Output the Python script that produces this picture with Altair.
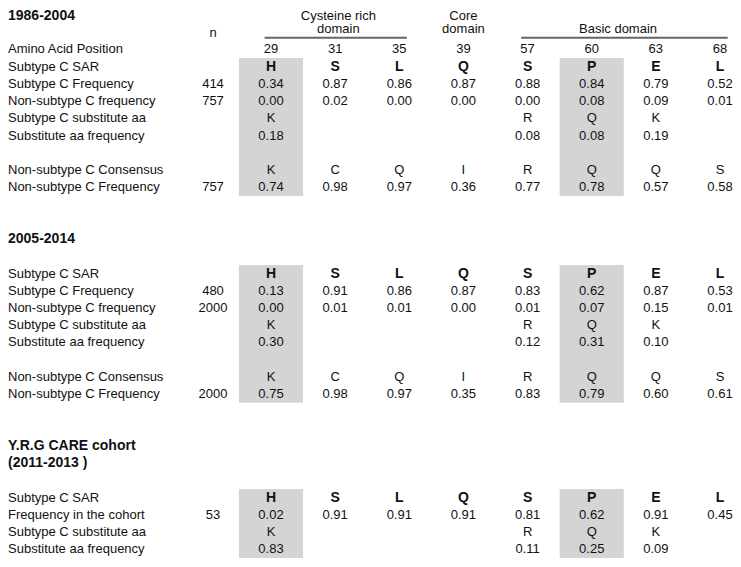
import altair as alt
import pandas as pd

# ---------------- data ----------------
positions = [29, 31, 35, 39, 57, 60, 63, 68]
sar = ["H", "S", "L", "Q", "S", "P", "E", "L"]
consensus = ["K", "C", "Q", "I", "R", "Q", "Q", "S"]
subst_aa = ["K", "", "", "", "R", "Q", "K", ""]
highlight_positions = [29, 60]

domain_names = [["Cysteine rich", "domain"], ["Core", "domain"], ["", "Basic domain"]]
domain_members = [[29, 31, 35], [39], [57, 60, 63, 68]]
domain_has_line = [True, False, True]

section_titles = [["1986-2004"], ["2005-2014"], ["Y.R.G CARE cohort", "(2011-2013 )"]]

# 1986-2004
s1_n = [414, 757, 757]
s1_subc_freq = [0.34, 0.87, 0.86, 0.87, 0.88, 0.84, 0.79, 0.52]
s1_nonc_freq = [0.00, 0.02, 0.00, 0.00, 0.00, 0.08, 0.09, 0.01]
s1_subst_freq = [0.18, None, None, None, 0.08, 0.08, 0.19, None]
s1_cons_freq = [0.74, 0.98, 0.97, 0.36, 0.77, 0.78, 0.57, 0.58]

# 2005-2014
s2_n = [480, 2000, 2000]
s2_subc_freq = [0.13, 0.91, 0.86, 0.87, 0.83, 0.62, 0.87, 0.53]
s2_nonc_freq = [0.00, 0.01, 0.01, 0.00, 0.01, 0.07, 0.15, 0.01]
s2_subst_freq = [0.30, None, None, None, 0.12, 0.31, 0.10, None]
s2_cons_freq = [0.75, 0.98, 0.97, 0.35, 0.83, 0.79, 0.60, 0.61]

# Y.R.G CARE cohort
s3_n = [53]
s3_freq = [0.02, 0.91, 0.91, 0.91, 0.81, 0.62, 0.91, 0.45]
s3_subst_freq = [0.83, None, None, None, 0.11, 0.25, 0.09, None]

# ---------------- table layout (row indices) ----------------
def fmt(v):
    return "" if v is None else f"{v:.2f}"

sections = [
    {
        "title_row": -1.93,
        "rows": [
            (0, "Amino Acid Position", None, [str(p) for p in positions], False),
            (1, "Subtype C SAR", None, sar, True),
            (2, "Subtype C Frequency", s1_n[0], [fmt(v) for v in s1_subc_freq], False),
            (3, "Non-subtype C frequency", s1_n[1], [fmt(v) for v in s1_nonc_freq], False),
            (4, "Subtype C substitute aa", None, subst_aa, False),
            (5, "Substitute aa frequency", None, [fmt(v) for v in s1_subst_freq], False),
            (7, "Non-subtype C Consensus", None, consensus, False),
            (8, "Non-subtype C Frequency", s1_n[2], [fmt(v) for v in s1_cons_freq], False),
        ],
        "band": (0.5, 8.5),
    },
    {
        "title_row": 11,
        "rows": [
            (13, "Subtype C SAR", None, sar, True),
            (14, "Subtype C Frequency", s2_n[0], [fmt(v) for v in s2_subc_freq], False),
            (15, "Non-subtype C frequency", s2_n[1], [fmt(v) for v in s2_nonc_freq], False),
            (16, "Subtype C substitute aa", None, subst_aa, False),
            (17, "Substitute aa frequency", None, [fmt(v) for v in s2_subst_freq], False),
            (19, "Non-subtype C Consensus", None, consensus, False),
            (20, "Non-subtype C Frequency", s2_n[2], [fmt(v) for v in s2_cons_freq], False),
        ],
        "band": (12.5, 20.5),
    },
    {
        "title_row": 23,
        "rows": [
            (26, "Subtype C SAR", None, sar, True),
            (27, "Frequency in the cohort", s3_n[0], [fmt(v) for v in s3_freq], False),
            (28, "Subtype C substitute aa", None, subst_aa, False),
            (29, "Substitute aa frequency", None, [fmt(v) for v in s3_subst_freq], False),
        ],
        "band": (25.5, 29.5),
    },
]

cells, labels, ns, titles, bands = [], [], [], [], []
for si, s in enumerate(sections):
    for i, t in enumerate(section_titles[si]):
        titles.append({"row": s["title_row"] + i, "txt": t})
    for row, lab, n, vals, bold in s["rows"]:
        labels.append({"row": row, "txt": lab})
        if n is not None:
            ns.append({"row": row, "txt": str(n)})
        for c, v in enumerate(vals):
            if v:
                cells.append({"row": row, "col": c, "txt": v, "bold": bold})
    for p in highlight_positions:
        c = positions.index(p)
        bands.append({"c1": c - 0.5, "c2": c + 0.5, "r1": s["band"][0], "r2": s["band"][1]})

headers, lines = [], []
for name, members, has_line in zip(domain_names, domain_members, domain_has_line):
    idx = [positions.index(p) for p in members]
    center = (min(idx) + max(idx)) / 2
    if has_line:
        lines.append({"c1": min(idx) - 0.1, "c2": max(idx) + 0.12, "row": -0.68})
    if len(idx) > 3:
        center = min(idx) + (max(idx) - min(idx)) * 0.47
    elif len(idx) > 1:
        center = center + 0.05
    for k, t in enumerate(name):
        if t:
            headers.append({"row": -1.965 + k * 0.785, "col": center, "txt": t})
ns.append({"row": -0.97, "txt": "n"})

cells_df = pd.DataFrame(cells)
FONT = "Liberation Sans, Arial, Helvetica, sans-serif"

xs = alt.Scale(domain=[0, 7], range=[263, 712], nice=False, zero=False)
ys = alt.Scale(domain=[-2.4, 29.5], range=[0, 550], nice=False, zero=False)

band_layer = alt.Chart(pd.DataFrame(bands)).mark_rect(color="#d4d4d4").encode(
    x=alt.X("c1:Q", scale=xs, axis=None), x2="c2:Q",
    y=alt.Y("r1:Q", scale=ys, axis=None), y2="r2:Q",
)
line_layer = alt.Chart(pd.DataFrame(lines)).mark_rule(color="#666666", strokeWidth=2).encode(
    x=alt.X("c1:Q", scale=xs, axis=None), x2="c2:Q",
    y=alt.Y("row:Q", scale=ys, axis=None),
)

def text_layer(df, **kw):
    return alt.Chart(df).mark_text(font=FONT, baseline="middle", color="#111111", **kw)

cell_plain = text_layer(cells_df[~cells_df["bold"]], fontSize=13, align="center").encode(
    x=alt.X("col:Q", scale=xs, axis=None), y=alt.Y("row:Q", scale=ys, axis=None), text="txt:N")
cell_bold = text_layer(cells_df[cells_df["bold"]], fontSize=14, fontWeight="bold", align="center").encode(
    x=alt.X("col:Q", scale=xs, axis=None), y=alt.Y("row:Q", scale=ys, axis=None), text="txt:N")
header_layer = text_layer(pd.DataFrame(headers), fontSize=13, align="center").encode(
    x=alt.X("col:Q", scale=xs, axis=None), y=alt.Y("row:Q", scale=ys, axis=None), text="txt:N")
label_layer = text_layer(pd.DataFrame(labels), fontSize=13, align="left").encode(
    x=alt.value(0), y=alt.Y("row:Q", scale=ys, axis=None), text="txt:N")
n_layer = text_layer(pd.DataFrame(ns), fontSize=13, align="center").encode(
    x=alt.value(205), y=alt.Y("row:Q", scale=ys, axis=None), text="txt:N")
title_layer = text_layer(pd.DataFrame(titles), fontSize=14, fontWeight="bold", align="left").encode(
    x=alt.value(0), y=alt.Y("row:Q", scale=ys, axis=None), text="txt:N")

chart = alt.layer(
    band_layer, line_layer, cell_plain, cell_bold, header_layer, label_layer, n_layer, title_layer
).properties(
    width=725, height=551, padding=0, autosize=alt.AutoSizeParams(type="none"),
    background="white",
).configure_view(strokeWidth=0)

chart.save("out.html", embed_options={"renderer": "svg", "actions": False})
